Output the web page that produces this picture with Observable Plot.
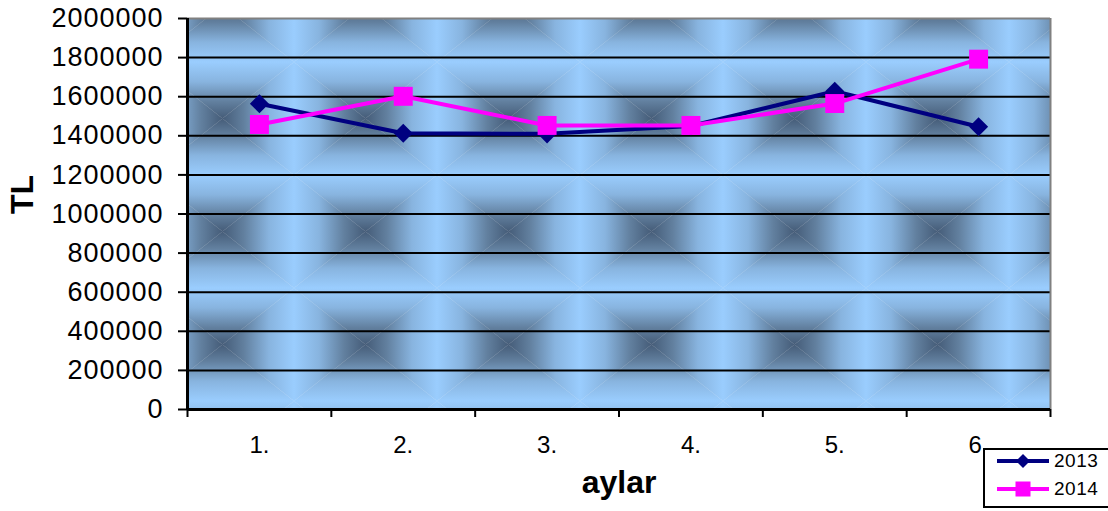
<!DOCTYPE html>
<html>
<head>
<meta charset="utf-8">
<script src="https://cdn.jsdelivr.net/npm/d3@7"></script>
<script src="https://cdn.jsdelivr.net/npm/@observablehq/plot@0.6"></script>
<style>
  html, body { margin: 0; padding: 0; background: #fff; overflow: hidden; }
  #wrap { position: relative; width: 1108px; height: 511px; }
  #wrap > svg { position: absolute; left: 0; top: 0; }
  g[aria-label="y-axis tick label"] text { letter-spacing: 1px; }
  #legend {
    position: absolute; left: 983px; top: 448px; width: 140px; height: 56px;
    border: 2px solid #000; background: #fff; box-sizing: content-box;
    font-family: "Liberation Sans", Arial, sans-serif; font-size: 19px; color: #000;
  }
  .lrow { position: absolute; left: 12px; height: 24px; display: flex; align-items: center; }
  .lrow svg { display: block; }
  .lrow span { margin-left: 5px; letter-spacing: 0.5px; }
</style>
</head>
<body>
<div id="wrap"></div>
<script>
// ---- data ----
const categories = ["1.", "2.", "3.", "4.", "5.", "6."];
const months = [1, 2, 3, 4, 5, 6];
const seriesNames = ["2013", "2014"];
const values2013 = [1564000, 1413000, 1410000, 1450000, 1628000, 1446000];
const values2014 = [1458000, 1602000, 1453000, 1453000, 1565000, 1792000];
const yTicks = [0, 200000, 400000, 600000, 800000, 1000000, 1200000, 1400000, 1600000, 1800000, 2000000];
const colors = {"2013": "#000080", "2014": "#ff00ff"};

const rows2013 = months.map((m, i) => ({month: m, value: values2013[i], year: "2013"}));
const rows2014 = months.map((m, i) => ({month: m, value: values2014[i], year: "2014"}));
const boundaries = months.map(m => m - 0.5).concat([months[months.length - 1] + 0.5]);
const xDomain = [boundaries[0], boundaries[boundaries.length - 1]];
const yMax = yTicks[yTicks.length - 1];

const chart = Plot.plot({
  width: 1108,
  height: 511,
  marginLeft: 187,
  marginRight: 58,
  marginTop: 18,
  marginBottom: 102,
  x: {type: "linear", domain: xDomain},
  y: {domain: [0, yMax]},
  style: {fontFamily: "'Liberation Sans', Arial, sans-serif", background: "transparent", color: "#000"},
  marks: [
    Plot.frame({fill: "#99ccff", stroke: "none"}),
    Plot.gridY(yTicks.filter(v => v > 0 && v < yMax), {stroke: "#000", strokeOpacity: 1, strokeWidth: 2}),
    Plot.ruleY([yMax], {stroke: "#808080", strokeWidth: 2}),
    Plot.ruleX([xDomain[1]], {stroke: "#808080", strokeWidth: 2}),
    Plot.axisY({ticks: yTicks, tickSize: 9, tickPadding: 15, fontSize: 27, strokeWidth: 2, label: null, tickFormat: d => String(d)}),
    Plot.axisX({ticks: boundaries, tickSize: 8, strokeWidth: 2, tickFormat: () => "", label: null}),
    Plot.axisX({ticks: months, tickSize: 0, tickPadding: 26, fontSize: 24, tickFormat: m => categories[m - 1], label: null}),
    Plot.ruleX([xDomain[0]], {stroke: "#000", strokeWidth: 3}),
    Plot.ruleY([0], {stroke: "#000", strokeWidth: 3}),
    Plot.line(rows2013, {x: "month", y: "value", stroke: colors["2013"], strokeWidth: 4}),
    Plot.dot(rows2013, {x: "month", y: "value", symbol: "diamond2", r: 8.6, fill: colors["2013"], stroke: "none"}),
    Plot.line(rows2014, {x: "month", y: "value", stroke: colors["2014"], strokeWidth: 4}),
    Plot.dot(rows2014, {x: "month", y: "value", symbol: "square", r: 10.7, fill: colors["2014"], stroke: "none"}),
    Plot.text(["TL"], {text: d => d, frameAnchor: "left", dx: -165, rotate: -90, fontSize: 32, fontWeight: "bold"}),
    Plot.text(["aylar"], {text: d => d, frameAnchor: "bottom", dy: 83, fontSize: 32, fontWeight: "bold"})
  ]
});

// background tile pattern (rectangular "from centre" gradient)
const svg = d3.select(chart);
const defs = svg.insert("defs", ":first-child");
const W = 143, H = 113;
const stops = [[0, "#455c78"], [0.3, "#62809f"], [0.65, "#88b4df"], [1, "#9acdfe"]];
function grad(id, x1, y1, x2, y2) {
  const g = defs.append("linearGradient").attr("id", id)
    .attr("x1", x1).attr("y1", y1).attr("x2", x2).attr("y2", y2);
  stops.forEach(([o, c]) => g.append("stop").attr("offset", o).attr("stop-color", c));
}
grad("gT", 0, 1, 0, 0);
grad("gB", 0, 0, 0, 1);
grad("gL", 1, 0, 0, 0);
grad("gR", 0, 0, 1, 0);
const pat = defs.append("pattern").attr("id", "bgtile")
  .attr("patternUnits", "userSpaceOnUse")
  .attr("x", 150.5).attr("y", -51.5).attr("width", W).attr("height", H);
const cx = W / 2, cy = H / 2;
pat.append("polygon").attr("points", `0,0 ${W},0 ${cx},${cy}`).attr("fill", "url(#gT)").attr("stroke", "url(#gT)").attr("stroke-width", 0.5);
pat.append("polygon").attr("points", `0,${H} ${W},${H} ${cx},${cy}`).attr("fill", "url(#gB)").attr("stroke", "url(#gB)").attr("stroke-width", 0.5);
pat.append("polygon").attr("points", `0,0 0,${H} ${cx},${cy}`).attr("fill", "url(#gL)");
pat.append("polygon").attr("points", `${W},0 ${W},${H} ${cx},${cy}`).attr("fill", "url(#gR)");
svg.selectAll('[aria-label="frame"]').attr("fill", "url(#bgtile)");
svg.selectAll('[aria-label="frame"] rect').attr("fill", "url(#bgtile)");

const wrap = document.getElementById("wrap");
wrap.appendChild(chart);

// legend
const legend = document.createElement("div");
legend.id = "legend";
legend.innerHTML = `
  <div class="lrow" style="top:-1px">
    <svg width="52" height="20"><line x1="0" y1="10" x2="52" y2="10" stroke="${colors["2013"]}" stroke-width="4"/>
    <polygon points="26,3 33,10 26,17 19,10" fill="${colors["2013"]}"/></svg>
    <span>${seriesNames[0]}</span></div>
  <div class="lrow" style="top:27px">
    <svg width="52" height="20"><line x1="0" y1="10" x2="52" y2="10" stroke="${colors["2014"]}" stroke-width="4"/>
    <rect x="18.5" y="2.5" width="15" height="15" fill="${colors["2014"]}"/></svg>
    <span>${seriesNames[1]}</span></div>`;
wrap.appendChild(legend);
</script>
</body>
</html>
